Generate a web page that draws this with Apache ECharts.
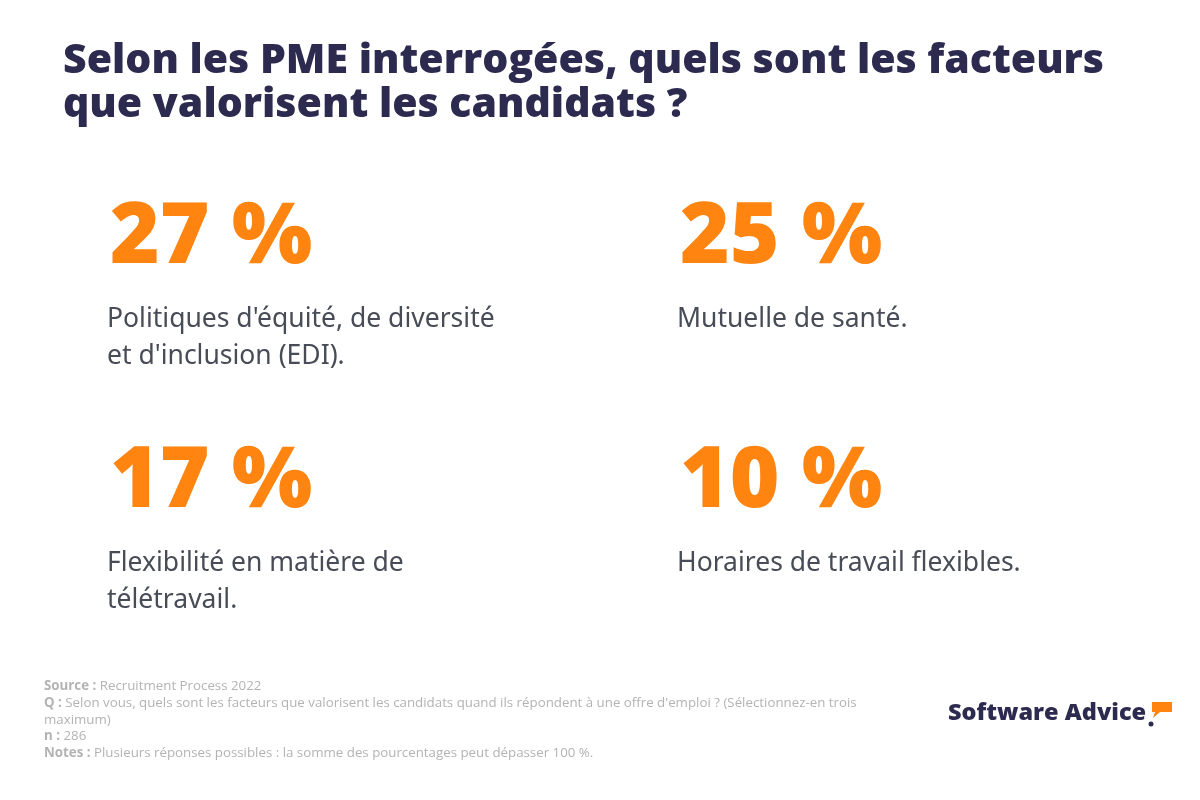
<!DOCTYPE html>
<html>
<head>
<meta charset="utf-8">
<script src="https://cdn.jsdelivr.net/npm/echarts@6/dist/echarts.min.js"></script>
<style>html,body{margin:0;padding:0;background:#fff}#c{width:1200px;height:800px}</style>
</head>
<body>
<div id="c"></div>
<script>
const titleLines = ["Selon les PME interrogées, quels sont les facteurs", "que valorisent les candidats ?"];
const values = [27, 25, 17, 10];
const labels = [
  ["Politiques d'équité, de diversité", "et d'inclusion (EDI)."],
  ["Mutuelle de santé."],
  ["Flexibilité en matière de", "télétravail."],
  ["Horaires de travail flexibles."]
];
const footer = [
  ["Source :", " Recruitment Process 2022"],
  ["Q :", " Selon vous, quels sont les facteurs que valorisent les candidats quand ils répondent à une offre d'emploi ? (Sélectionnez-en trois"],
  ["", "maximum)"],
  ["n :", " 286"],
  ["Notes :", " Plusieurs réponses possibles : la somme des pourcentages peut dépasser 100 %."]
];
const brand = "Software Advice";

const navy = '#2c2a4f';
const orange = '#ff8410';
const grey = '#474c56';
const footGrey = '#b3b3b3';

const colX = [110, 680];
const rowY = [196, 440];
const elements = [];

titleLines.forEach((t, i) => {
  elements.push({type:'text', left:63, top:41 + i*44, style:{text:t, font:'800 41px "Open Sans"', fill:navy}});
});

values.forEach((v, i) => {
  const cx = colX[i % 2], ry = rowY[Math.floor(i / 2)];
  elements.push({type:'text', left:cx, top:ry, style:{text:v + ' %', font:'800 85px "Open Sans"', fill:orange}});
  labels[i].forEach((l, j) => {
    elements.push({type:'text', left:cx - 3, top:ry + 110 + j*37, style:{text:l, font:'400 26.5px "Noto Sans"', fill:grey}});
  });
});

footer.forEach((f, i) => {
  elements.push({type:'text', left:44, top:679.5 + i*16.9, style:{
    text:(f[0] ? '{b|' + f[0] + '}' : '') + '{r|' + f[1] + '}',
    rich:{b:{font:'700 13.3px "Open Sans"', fill:footGrey}, r:{font:'400 13.3px "Open Sans"', fill:footGrey}}
  }});
});

elements.push({type:'text', left:948, top:701, style:{text:brand, font:'800 23.5px "Open Sans"', fill:navy}});
elements.push({type:'circle', shape:{cx:1151, cy:724, r:2.5}, style:{fill:navy}});
elements.push({type:'polygon', shape:{points:[[1152,702],[1172,702],[1172,712],[1160,712],[1153,718],[1155,712],[1152,712]]}, style:{fill:orange}});

const chart = echarts.init(document.getElementById('c'));
chart.setOption({backgroundColor:'#fff', graphic:{elements}});
</script>
</body>
</html>
